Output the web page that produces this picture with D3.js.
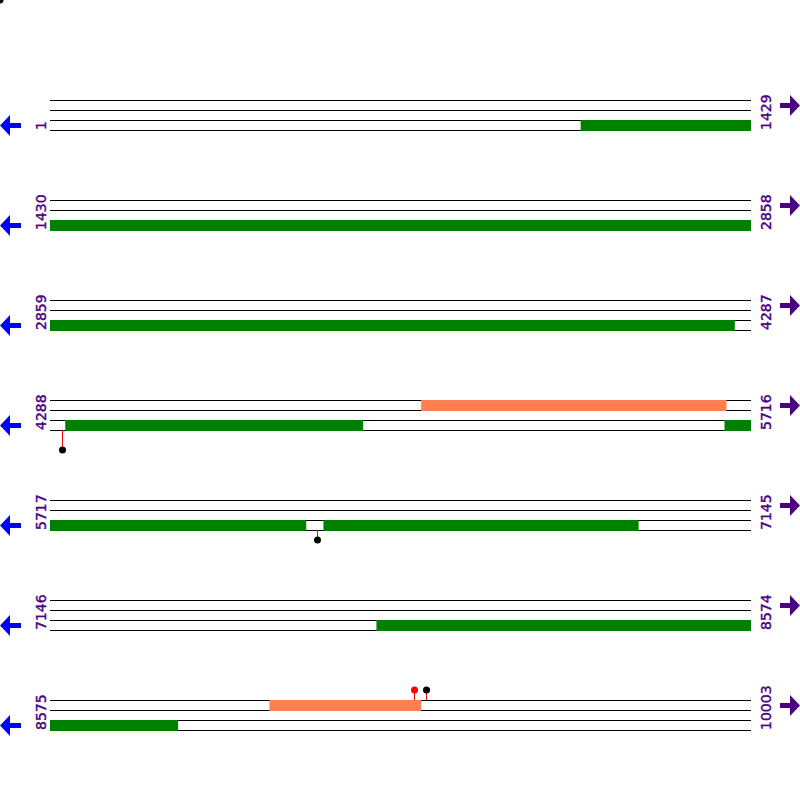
<!DOCTYPE html>
<html>
<head>
<meta charset="utf-8">
<script src="https://cdn.jsdelivr.net/npm/d3@7"></script>
<style>
  body { margin: 0; background: #fff; }
  svg { display: block; }
</style>
</head>
<body>
<div id="chart"></div>
<script>
// row ranges (bp)
const rowStarts = [1, 1430, 2859, 4288, 5717, 7146, 8575];
const rowEnds = [1429, 2858, 4287, 5716, 7145, 8574, 10003];

// features: [start, end] in bp
const greenFeatures = [[1082, 4254], [4319, 4926], [5662, 6239], [6274, 6916], [7811, 8836]];
const orangeFeatures = [[5044, 5666], [9022, 9331]];

// sites: position, dot colour, side (up/down), stem length
const sitePos = [4312, 6261, 9317, 9340];
const siteColor = ["black", "black", "red", "black"];
const siteSide = ["down", "down", "up", "up"];
const siteLen = [20, 10, 10, 10];

const width = 800, height = 800;
const left = 50, right = 751;
const rowTop = d3.scaleLinear().domain([0, 1]).range([100, 200]);
const trackH = 10;

const svg = d3.select("#chart").append("svg")
  .attr("width", width)
  .attr("height", height);

// stray dot in the corner
svg.append("circle").attr("cx", 0).attr("cy", 0).attr("r", 3.5).attr("fill", "black");

rowStarts.forEach((start, i) => {
  const end = rowEnds[i];
  const y0 = rowTop(i);
  const x = d3.scaleLinear().domain([start, end]).range([left, right]);
  const g = svg.append("g");

  const clip = f => [Math.max(f[0], start), Math.min(f[1], end)];
  const inRow = f => f[1] >= start && f[0] <= end;

  // track lines
  d3.range(4).forEach(k => {
    const yy = y0 + k * trackH + 0.5;
    g.append("line")
      .attr("x1", left).attr("x2", right)
      .attr("y1", yy).attr("y2", yy)
      .attr("stroke", "black").attr("stroke-width", 1);
  });

  // green bars on track 3
  g.selectAll("rect.green")
    .data(greenFeatures.filter(inRow).map(clip))
    .enter().append("rect")
    .attr("class", "green")
    .attr("x", d => x(d[0]))
    .attr("width", d => x(d[1]) - x(d[0]))
    .attr("y", y0 + 2 * trackH)
    .attr("height", trackH + 1)
    .attr("fill", "#008000");

  // orange bars on track 1
  g.selectAll("rect.orange")
    .data(orangeFeatures.filter(inRow).map(clip))
    .enter().append("rect")
    .attr("class", "orange")
    .attr("x", d => x(d[0]))
    .attr("width", d => x(d[1]) - x(d[0]))
    .attr("y", y0)
    .attr("height", trackH + 1)
    .attr("fill", "#FF7F50");

  // sites
  sitePos.forEach((p, j) => {
    if (p < start || p > end) return;
    const sx = Math.round(x(p)) + 0.5;
    const base = siteSide[j] === "down" ? y0 + 3 * trackH : y0;
    const tip = siteSide[j] === "down" ? base + siteLen[j] : base - siteLen[j];
    g.append("line")
      .attr("x1", sx).attr("x2", sx)
      .attr("y1", base).attr("y2", tip)
      .attr("stroke", "red").attr("stroke-width", 1);
    g.append("circle")
      .attr("cx", sx).attr("cy", tip).attr("r", 3.5)
      .attr("fill", siteColor[j]);
  });

  // labels
  [[46, start], [771, end]].forEach(([lx, v]) => {
    g.append("text")
      .attr("transform", `translate(${lx},${y0 + 30}) rotate(-90)`)
      .attr("font-family", "DejaVu Sans, sans-serif")
      .attr("font-size", 14)
      .attr("fill", "#4B0082")
      .attr("stroke", "#4B0082")
      .attr("stroke-width", 0.4)
      .text(v);
  });

  // arrows
  const ly = y0 + 25.5;
  g.append("path")
    .attr("d", `M0,${ly} L10,${ly - 10.5} L10,${ly - 2.5} L21,${ly - 2.5} L21,${ly + 2.5} L10,${ly + 2.5} L10,${ly + 10.5} Z`)
    .attr("fill", "#0000FF");
  const ry = y0 + 5.5;
  g.append("path")
    .attr("d", `M800,${ry} L790,${ry - 10.5} L790,${ry - 2.5} L780,${ry - 2.5} L780,${ry + 2.5} L790,${ry + 2.5} L790,${ry + 10.5} Z`)
    .attr("fill", "#4B0082");
});
</script>
</body>
</html>
